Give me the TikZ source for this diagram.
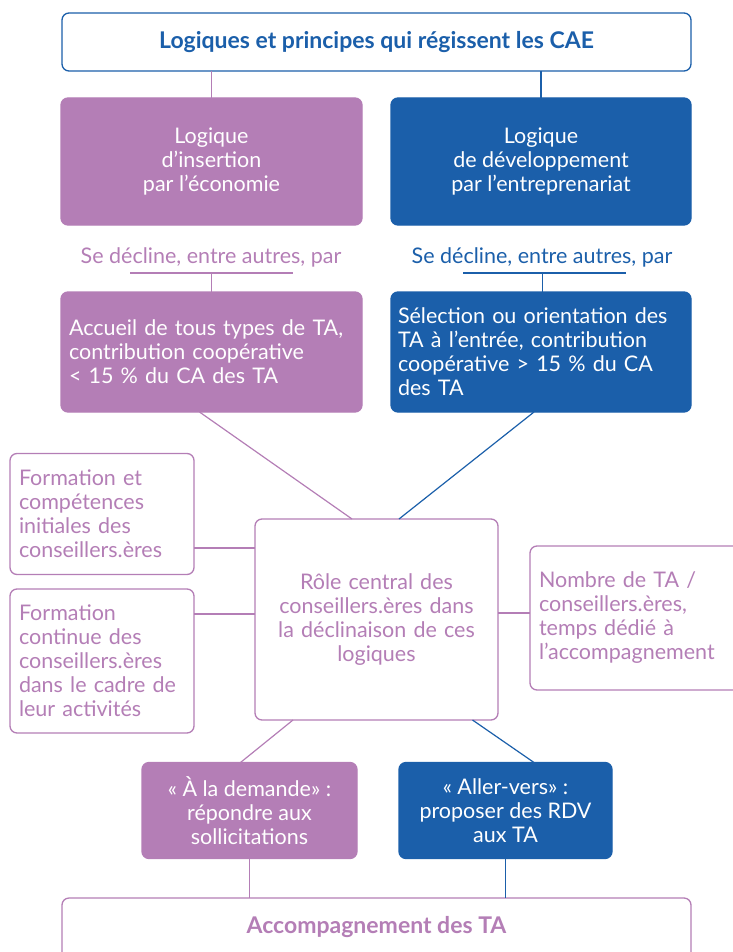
\documentclass[tikz,border=0pt]{standalone}
\usepackage{fontspec}
\setmainfont{Lato}
\definecolor{pur}{RGB}{180,126,182}
\definecolor{blu}{RGB}{27,95,170}
\begin{document}
\begin{tikzpicture}[x=1pt,y=-1pt,
  every node/.style={inner sep=0pt, outer sep=0pt},
  base/.style={rounded corners=7pt, line width=1.3pt, font=\fontsize{21.5}{24}\selectfont},
  pfill/.style={base, draw=pur, fill=pur, text=white},
  bfill/.style={base, draw=blu, fill=blu, text=white},
  pline/.style={draw=pur, line width=1.2pt},
  bline/.style={draw=blu, line width=1.2pt},
  wbox/.style={base, draw=pur, fill=white, text=pur},
  hfont/.style={font=\fontsize{23}{26}\selectfont\bfseries}]
\useasboundingbox (0,0) rectangle (732,952);
% top
\node[base, draw=blu, fill=white, text=blu, minimum width=629, minimum height=58, hfont] (top) at (376.5,42) {Logiques et principes qui régissent les CAE};
% first level
\node[pfill, minimum width=301, minimum height=127, align=center] (pl1) at (211.5,161.5) {Logique\\d’insertion\\par l’économie};
\node[bfill, minimum width=300, minimum height=127, align=center] (bl1) at (541,161.5) {Logique\\de développement\\par l’entreprenariat};
% se decline
\node[text=pur, font=\fontsize{21.5}{24}\selectfont] (pse) at (211,257) {Se décline, entre autres, par};
\node[text=blu, font=\fontsize{21.5}{24}\selectfont] (bse) at (542,257) {Se décline, entre autres, par};
\coordinate (pu1) at (130,273); \coordinate (pu2) at (293,273);
\coordinate (bu1) at (463,273); \coordinate (bu2) at (626,273);
% second level
\node[pfill, minimum width=301, minimum height=120, text width=285, align=left] (pl2) at (211.5,352)
  {Accueil de tous types de TA,\\contribution coopérative\\< 15 \% du CA des TA};
\node[bfill, minimum width=300, minimum height=120, text width=286, align=left] (bl2) at (541,352)
  {Sélection ou orientation des\\TA à l’entrée, contribution\\coopérative > 15 \% du CA\\des TA};
% center
\node[wbox, minimum width=243, minimum height=201, text width=230, align=center] (ctr) at (376.5,619.5)
  {Rôle central des\\conseillers.ères dans\\la déclinaison de ces\\logiques};
% left
\node[wbox, minimum width=184, minimum height=121, text width=166, align=left] (lf1) at (102,514)
  {Formation et\\compétences\\initiales des\\conseillers.ères};
\node[wbox, minimum width=184, minimum height=144, text width=166, align=left] (lf2) at (102,661)
  {Formation\\continue des\\conseillers.ères\\dans le cadre de\\leur activités};
% right
\node[wbox, minimum width=220, minimum height=144, text width=202, align=left] (rt) at (640,618)
  {Nombre de TA /\\conseillers.ères,\\temps dédié à\\l’accompagnement};
% bottom level
\node[pfill, minimum width=215, minimum height=96, align=center] (pb) at (249.5,810.5)
  {« À la demande» :\\répondre aux\\sollicitations};
\node[bfill, minimum width=213, minimum height=96, align=center] (bb) at (505.5,810.5)
  {« Aller-vers» :\\proposer des RDV\\aux TA};
% final
\node[wbox, minimum width=629, minimum height=80, anchor=north] (fin) at (376.5,898) {};
\node[text=pur, hfont] (fint) at (376.5,927) {Accompagnement des TA};
% connectors
\draw[pline] (pl1.north |- top.south) -- (pl1.north);
\draw[bline] (bl1.north |- top.south) -- (bl1.north);
\draw[pline] (pu1) -- (pu2);
\draw[bline] (bu1) -- (bu2);
\draw[pline] (pl2.north |- pu1) -- (pl2.north);
\draw[bline] ([xshift=1.5pt]bl2.north |- bu1) -- ([xshift=1.5pt]bl2.north);
\draw[pline] ([xshift=-12pt]pl2.south) -- ([xshift=-24.5pt]ctr.north);
\draw[bline] ([xshift=-7pt]bl2.south) -- ([xshift=22.5pt]ctr.north);
\draw[pline] (lf1.east |- 0,548) -- (ctr.west |- 0,548);
\draw[pline] (lf2.east |- 0,614) -- (ctr.west |- 0,614);
\draw[pline] (ctr.east |- 0,613) -- (rt.west |- 0,613);
\draw[pline] ([xshift=-83.5pt]ctr.south) -- ([xshift=-9pt]pb.north);
\draw[bline] ([xshift=96pt]ctr.south) -- ([xshift=28.5pt]bb.north);
\draw[pline] (pb.south) -- (pb.south |- fin.north);
\draw[bline] (bb.south) -- (bb.south |- fin.north);
\end{tikzpicture}
\end{document}
